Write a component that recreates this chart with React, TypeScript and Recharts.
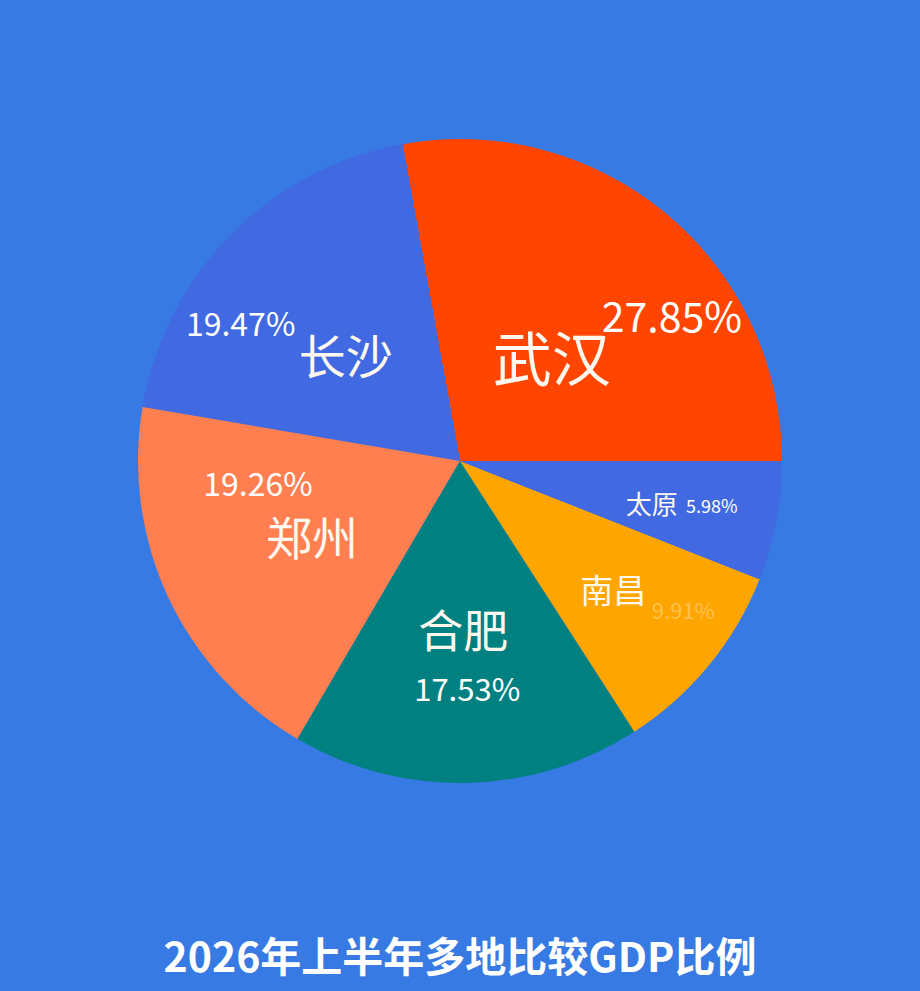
import { Cell, Pie, PieChart } from "recharts";

const cities = ["武汉", "长沙", "郑州", "合肥", "南昌", "太原"];
const shares = [27.85, 19.47, 19.26, 17.53, 9.91, 5.98];
const colors = ["#FF4500", "#4169E1", "#FF7F50", "#008080", "#FFA500", "#4169E1"];

const title = "2026年上半年多地比较GDP比例";

// label layout per slice: offsets from a point at 60% of the radius on the mid angle
const nameStyle = [
  { dx: -32, dy: 43, size: 59 },
  { dx: 23, dy: 28, size: 47 },
  { dx: 27, dy: -8, size: 46 },
  { dx: -1, dy: -26, size: 45 },
  { dx: 4, dy: 5, size: 33 },
  { dx: 2, dy: 5, size: 26 },
];
const pctStyle = [
  { dx: 88, dy: 1, size: 41, fill: "#fff", opacity: 1 },
  { dx: -82, dy: -3, size: 32, fill: "#fff", opacity: 1 },
  { dx: -27, dy: -61, size: 32, fill: "#fff", opacity: 1 },
  { dx: 3, dy: 33, size: 31, fill: "#fff", opacity: 1 },
  { dx: 74, dy: 25, size: 22, fill: "#FFE6B0", opacity: 0.45 },
  { dx: 62, dy: 8, size: 18, fill: "#fff", opacity: 1 },
];

const data = cities.map((name, i) => ({ name, value: shares[i] }));

const RADIAN = Math.PI / 180;
const FONT = '"Noto Sans CJK SC", "Noto Sans", sans-serif';

function renderLabel(props: any) {
  const { cx, cy, midAngle, outerRadius, index } = props;
  const r = outerRadius * 0.6;
  const x = cx + r * Math.cos(-midAngle * RADIAN);
  const y = cy + r * Math.sin(-midAngle * RADIAN);
  const n = nameStyle[index];
  const p = pctStyle[index];
  return (
    <g>
      <text
        x={x + n.dx}
        y={y + n.dy}
        fill="#FFF8EE"
        fontSize={n.size}
        fontFamily={FONT}
        textAnchor="middle"
        dominantBaseline="central"
      >
        {cities[index]}
      </text>
      <text
        x={x + p.dx}
        y={y + p.dy}
        fill={p.fill}
        fillOpacity={p.opacity}
        fontSize={p.size}
        fontFamily={FONT}
        textAnchor="middle"
        dominantBaseline="central"
      >
        {shares[index].toFixed(2)}%
      </text>
    </g>
  );
}

export default function App() {
  return (
    <div style={{ position: "fixed", left: 0, top: 0, width: 920, height: 991, background: "#377AE3", overflow: "hidden" }}>
      <PieChart width={920} height={991} margin={{ top: 0, right: 0, bottom: 0, left: 0 }}>
        <Pie
          data={data}
          dataKey="value"
          nameKey="name"
          cx={460}
          cy={461}
          outerRadius={322}
          startAngle={0}
          endAngle={360}
          stroke="none"
          label={renderLabel}
          labelLine={false}
          isAnimationActive={false}
        >
          {data.map((d, i) => (
            <Cell key={d.name} fill={colors[i]} />
          ))}
        </Pie>
      </PieChart>
      <div
        style={{
          position: "absolute",
          left: 0,
          width: 920,
          top: 928,
          textAlign: "center",
          color: "#fff",
          fontFamily: FONT,
          fontWeight: 700,
          fontSize: 41,
          lineHeight: "52px",
        }}
      >
        {title}
      </div>
    </div>
  );
}
